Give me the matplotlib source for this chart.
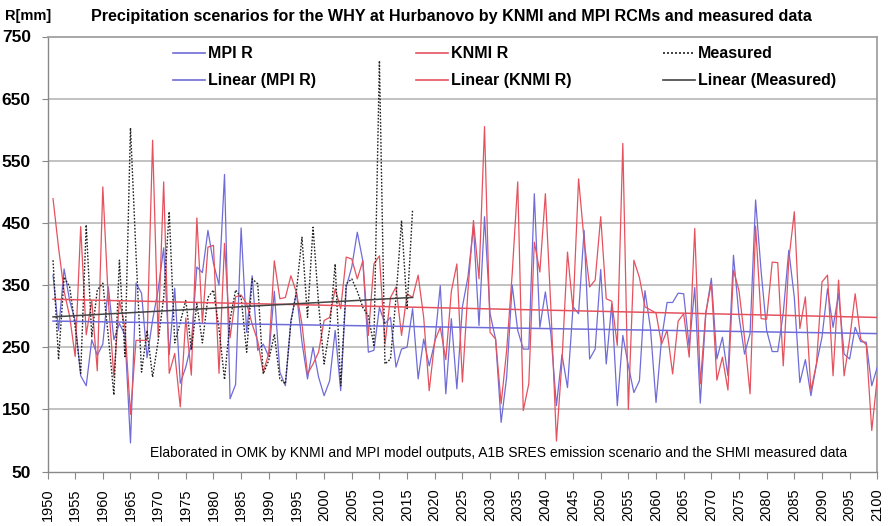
import numpy as np
import matplotlib
matplotlib.use("Agg")
import matplotlib.pyplot as plt
from matplotlib.lines import Line2D

years = list(range(1951, 2101))
years_measured = list(range(1951, 2017))

mpi_r = [366, 277, 376, 325, 293, 204, 188, 262, 237, 255,
         347, 262, 288, 270, 96, 353, 337, 233, 294, 342,
         410, 238, 345, 192, 218, 256, 379, 370, 438, 385,
         350, 528, 167, 190, 442, 274, 365, 245, 255, 235,
         340, 210, 188, 293, 338, 258, 199, 250, 202, 172,
         196, 277, 180, 347, 379, 435, 389, 242, 245, 314,
         288, 298, 218, 247, 250, 312, 199, 263, 220, 258,
         349, 175, 296, 183, 315, 363, 444, 285, 460, 304,
         263, 129, 202, 350, 277, 247, 247, 497, 282, 339,
         271, 156, 238, 185, 315, 304, 438, 231, 247, 375,
         223, 320, 156, 269, 220, 177, 196, 341, 280, 161,
         263, 322, 322, 337, 336, 250, 346, 160, 304, 361,
         231, 266, 204, 398, 300, 239, 272, 487, 372, 277,
         243, 243, 305, 406, 330, 193, 230, 172, 223, 266,
         344, 282, 336, 239, 231, 282, 259, 258, 188, 218]

knmi_r = [489, 410, 340, 300, 235, 444, 270, 325, 212, 508,
          325, 202, 325, 282, 142, 261, 261, 261, 583, 266,
          516, 208, 240, 154, 297, 205, 458, 289, 411, 414,
          208, 417, 265, 331, 334, 320, 287, 260, 210, 240,
          389, 328, 330, 365, 338, 287, 207, 223, 242, 293,
          298, 344, 312, 395, 392, 360, 389, 269, 384, 397,
          255, 330, 347, 269, 336, 330, 366, 298, 180, 260,
          282, 230, 340, 384, 194, 341, 454, 360, 605, 274,
          263, 159, 245, 368, 516, 148, 191, 419, 371, 497,
          312, 99, 228, 403, 309, 521, 422, 347, 358, 460,
          328, 324, 253, 578, 150, 390, 362, 315, 310, 305,
          255, 277, 207, 292, 304, 234, 441, 191, 306, 353,
          197, 234, 181, 374, 341, 265, 175, 445, 296, 295,
          387, 386, 220, 390, 468, 280, 331, 180, 223, 355,
          366, 204, 358, 204, 263, 336, 263, 254, 116, 202]

measured = [390, 230, 363, 347, 283, 208, 447, 267, 342, 353,
            267, 173, 390, 235, 603, 400, 210, 277, 202, 260,
            330, 468, 257, 290, 326, 246, 320, 257, 330, 342,
            280, 198, 294, 342, 330, 242, 360, 352, 207, 229,
            271, 199, 191, 290, 340, 427, 298, 443, 320, 223,
            280, 384, 188, 352, 360, 340, 314, 300, 253, 711,
            223, 231, 330, 454, 312, 472]

y_ticks = [50, 150, 250, 350, 450, 550, 650, 750]
x_ticks = list(range(1950, 2101, 5))

title = "Precipitation scenarios for the WHY at Hurbanovo by KNMI and MPI RCMs and measured data"
note = ("Elaborated in OMK by KNMI and MPI model outputs, A1B SRES emission "
        "scenario and the SHMI measured data")
legend_labels = ["MPI R", "KNMI R", "Measured",
                 "Linear (MPI R)", "Linear (KNMI R)", "Linear (Measured)"]

plt.rcParams["font.family"] = ["Liberation Sans", "DejaVu Sans"]

blue = "#6f6cd8"
red = "#e5525e"
dark = "#222222"
trend_dark = "#444444"
dotted = (0, (1.2, 1.2))

W, H = 889, 526
fig = plt.figure(figsize=(W / 100, H / 100), dpi=100)
ax = fig.add_axes([47.5 / W, 1 - 471.5 / H, (877.3 - 47.5) / W, (471.5 - 36.5) / H])

ax.set_ylim(50, 750)
ax.set_xlim(1950, 2100)
for v in y_ticks[1:-1]:
    ax.axhline(v, color="#bdbdbd", lw=1.3, zorder=0)

yrs = np.array(years)
ym = np.array(years_measured)
ax.plot(yrs, mpi_r, color=blue, lw=0.9, zorder=3)
ax.plot(yrs, knmi_r, color=red, lw=0.9, zorder=3)
ax.plot(ym, measured, color=dark, lw=1.0, ls=dotted, zorder=4)

for x, y, c in [(yrs, mpi_r, blue), (yrs, knmi_r, red), (ym, measured, trend_dark)]:
    p = np.polyfit(x, y, 1)
    ax.plot(x, np.polyval(p, x), color=c, lw=1.1, zorder=5)

ax.set_yticks(y_ticks)
ax.set_yticklabels([str(v) for v in y_ticks], fontweight="bold", fontsize=12.5)
ax.set_xticks(x_ticks)
ax.set_xticklabels([str(v) for v in x_ticks], rotation=90, fontsize=10.5)
ax.tick_params(axis="x", direction="out", length=5, pad=7, color="#888888")
ax.tick_params(axis="y", direction="out", length=4, pad=8, color="#888888")
for s in ["top", "right"]:
    ax.spines[s].set_color("#a0a0a0")
    ax.spines[s].set_linewidth(1.3)
for s in ["left", "bottom"]:
    ax.spines[s].set_color("#888888")
    ax.spines[s].set_linewidth(1.0)

# legend, laid out in pixel positions like the reference (2 rows x 3 columns)
styles = [dict(color=blue), dict(color=red), dict(color=dark, ls=dotted),
          dict(color=blue), dict(color=red), dict(color=trend_dark)]
col_x = [173, 416, 663]
row_y = [53, 80]
for i, (lab, st) in enumerate(zip(legend_labels, styles)):
    r, c = divmod(i, 3)
    x0 = col_x[c]
    yy = 1 - row_y[r] / H
    fig.add_artist(Line2D([x0 / W, (x0 + 32) / W], [yy, yy], lw=1.2,
                          transform=fig.transFigure, **st))
    fig.text((x0 + 35) / W, yy, lab, fontweight="bold", fontsize=11.5,
             va="center", ha="left")

ax.text(0.543, 0.027, note, transform=ax.transAxes, ha="center", va="bottom", fontsize=10)

fig.text(5 / W, 1 - 16 / H, "R[mm]", fontweight="bold", fontsize=10.5, va="center", ha="left")
fig.text(451 / W, 1 - 16 / H, title, fontweight="bold", fontsize=11.6, va="center", ha="center")

fig.savefig("out.png", dpi=100)
